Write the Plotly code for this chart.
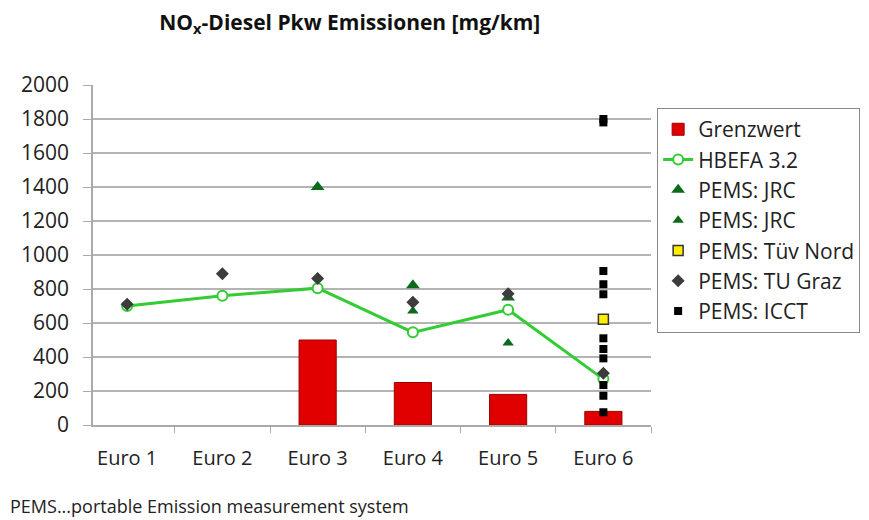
import plotly.graph_objects as go

categories = ["Euro 1", "Euro 2", "Euro 3", "Euro 4", "Euro 5", "Euro 6"]

# limit values (Grenzwert), only Euro 3-6
limit_cats = ["Euro 3", "Euro 4", "Euro 5", "Euro 6"]
limit_vals = [500, 250, 180, 80]

# HBEFA 3.2 model values
hbefa_vals = [700, 760, 805, 545, 678, 270]

# PEMS measurements
jrc1_cats = ["Euro 3", "Euro 4", "Euro 5"]
jrc1_vals = [1400, 822, 750]
jrc2_cats = ["Euro 4", "Euro 5"]
jrc2_vals = [670, 482]
tuev_cats = ["Euro 6"]
tuev_vals = [622]
tugraz_cats = ["Euro 1", "Euro 2", "Euro 3", "Euro 4", "Euro 5", "Euro 6"]
tugraz_vals = [710, 890, 862, 722, 772, 304]
icct_vals = [1800, 1780, 906, 828, 769, 510, 447, 392, 235, 172, 75]
icct_cats = ["Euro 6"] * len(icct_vals)

y_ticks = list(range(0, 2001, 200))

FONT = "Open Sans"
TXT = "#222222"

fig = go.Figure()
fig.add_trace(go.Bar(x=limit_cats, y=limit_vals, name="Grenzwert", width=0.39,
                     marker=dict(color="#e00000", line=dict(color="#9a0000", width=1))))
fig.add_trace(go.Scatter(x=categories, y=hbefa_vals, name="HBEFA 3.2", mode="lines+markers",
                         line=dict(color="#33cc33", width=3),
                         marker=dict(symbol="circle", size=10, color="white",
                                     line=dict(color="#33cc33", width=2))))
fig.add_trace(go.Scatter(x=jrc1_cats, y=jrc1_vals, name="PEMS: JRC", mode="markers",
                         marker=dict(symbol="triangle-up", size=12, color="#0b6b1c")))
fig.add_trace(go.Scatter(x=jrc2_cats, y=jrc2_vals, name="PEMS: JRC", mode="markers",
                         marker=dict(symbol="triangle-up", size=10, color="#0b6b1c")))
fig.add_trace(go.Scatter(x=tuev_cats, y=tuev_vals, name="PEMS: Tüv Nord", mode="markers",
                         marker=dict(symbol="square", size=10, color="#ffee00",
                                     line=dict(color="#333333", width=1.5))))
fig.add_trace(go.Scatter(x=tugraz_cats, y=tugraz_vals, name="PEMS: TU Graz", mode="markers",
                         marker=dict(symbol="diamond", size=10, color="#3c3c3c")))
fig.add_trace(go.Scatter(x=icct_cats, y=icct_vals, name="PEMS: ICCT", mode="markers",
                         marker=dict(symbol="square", size=8, color="black")))

# page body has an 8px margin, so the figure is a bit smaller and shifted
fig.update_layout(
    width=861, height=512,
    margin=dict(l=85, r=218, t=77, b=95, autoexpand=False),
    paper_bgcolor="white", plot_bgcolor="white",
    font=dict(family=FONT, size=20, color=TXT),
    title=dict(text="<b>NO<sub>x</sub>-Diesel Pkw Emissionen [mg/km]</b>",
               x=0.397, xanchor="center", y=0.972, yanchor="middle",
               font=dict(family=FONT, size=21, color="#111111")),
    showlegend=True,
    legend=dict(x=1.011, xanchor="left", y=0.932, yanchor="top",
                bordercolor="#888888", borderwidth=1, bgcolor="white",
                font=dict(family=FONT, size=21, color=TXT),
                tracegroupgap=0, itemwidth=30),
    bargap=0.6,
)
fig.update_xaxes(type="category", categoryorder="array", categoryarray=categories,
                 showline=True, linecolor="#aaaaaa", linewidth=1.5,
                 ticks="outside", tickson="boundaries", ticklen=6, tickcolor="#aaaaaa",
                 showgrid=False, ticklabelstandoff=14, tickfont=dict(size=20, color=TXT))
fig.update_yaxes(range=[0, 2000], tickvals=y_ticks, showline=True, linecolor="#aaaaaa",
                 linewidth=1.5, ticks="outside", ticklen=8, tickcolor="#aaaaaa",
                 gridcolor="#b4b4b4", gridwidth=1.5, zeroline=False,
                 ticklabelstandoff=10, tickfont=dict(size=21, color=TXT))

fig.add_annotation(text="PEMS...portable Emission measurement system",
                   xref="paper", yref="paper", x=-0.152, y=-0.238,
                   xanchor="left", yanchor="middle", showarrow=False,
                   font=dict(family=FONT, size=18, color=TXT))

fig.write_html("out.html")
